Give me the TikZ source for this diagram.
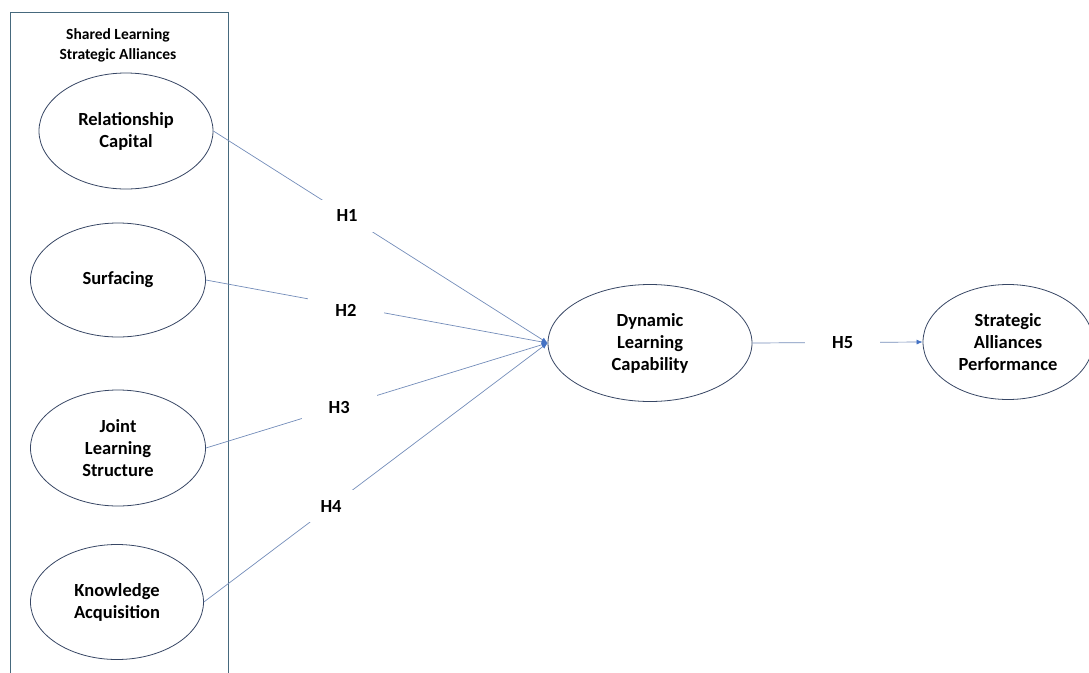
\documentclass[tikz,border=0pt]{standalone}
\usepackage{fontspec}
\setmainfont{Carlito}
\usetikzlibrary{shapes.geometric}
\usetikzlibrary{arrows.meta}

\definecolor{boxcol}{RGB}{70,105,125}
\definecolor{ovalcol}{RGB}{55,70,100}
\definecolor{linkcol}{RGB}{115,140,185}
\definecolor{tipcol}{RGB}{68,114,196}

\begin{document}
\begin{tikzpicture}[x=1pt,y=-1pt,
 construct/.style={ellipse,draw=ovalcol,thick,inner sep=0pt,align=center,
  font=\bfseries\fontsize{18.5}{22}\selectfont},
 hyp/.style={fill=white,inner xsep=27pt,inner ysep=10pt,
  font=\bfseries\fontsize{18.5}{22}\selectfont},
 link/.style={draw=linkcol,line width=0.7pt},
 linkarrow/.style={link,-{Latex[length=6pt,width=5pt,color=tipcol]}}]
 \useasboundingbox (0,0) rectangle (1089,672);
 \draw[boxcol,line width=1pt](10,12) rectangle (228,690);
 \node[align=center,font=\bfseries\fontsize{15.5}{20}\selectfont] (title) at (118,45) {Shared Learning\\Strategic Alliances};
 % left column
 \node[construct,minimum width=174pt,minimum height=116pt] (rc) at (126,131) {Relationship\\Capital};
 \node[construct,minimum width=175pt,minimum height=114pt] (sur) at (118,280) {Surfacing};
 \node[construct,minimum width=175pt,minimum height=116pt] (jls) at (118,448) {Joint\\Learning\\Structure};
 \node[construct,minimum width=173pt,minimum height=115pt] (ka) at (117,602) {Knowledge\\Acquisition};
 % right side
 \node[construct,minimum width=204pt,minimum height=117pt] (dlc) at (650,343) {Dynamic\\Learning\\Capability};
 \node[construct,minimum width=170pt,minimum height=115pt] (sap) at (1008,342) {Strategic\\Alliances\\Performance};
 % hypotheses
 \draw[linkarrow](rc.east) -- node[hyp,pos=0.40]{H1} (dlc.west);
 \draw[linkarrow](sur.east) -- node[hyp,pos=0.41,yshift=-5pt]{H2} (dlc.west);
 \draw[linkarrow](jls.east) -- node[hyp,pos=0.39]{H3} (dlc.west);
 \draw[linkarrow](ka.east) -- node[hyp,pos=0.37]{H4} (dlc.west);
 \draw[linkarrow](dlc.east) -- node[hyp,pos=0.53]{H5} (sap.west);
\end{tikzpicture}
\end{document}
